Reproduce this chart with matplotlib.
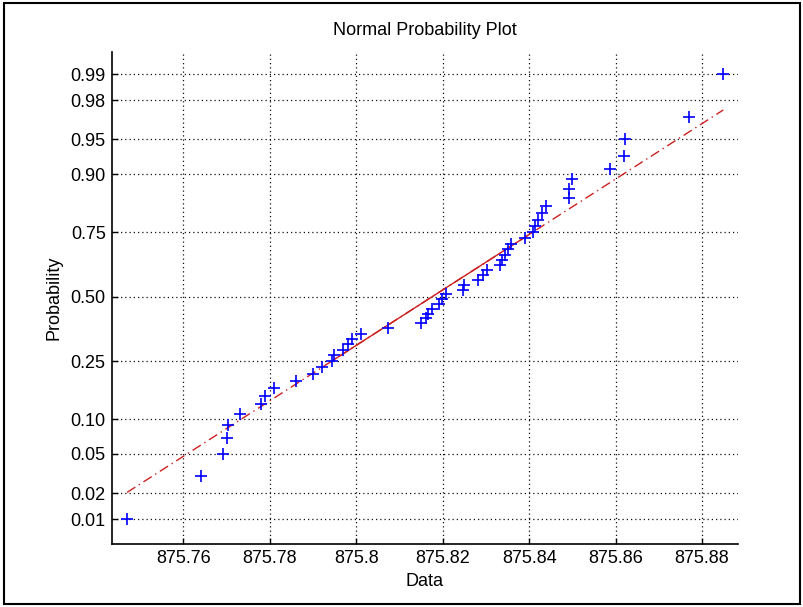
import matplotlib
matplotlib.use('Agg')
import matplotlib.pyplot as plt
from matplotlib.patches import Rectangle
from statistics import NormalDist
import numpy as np

# Data values (sorted sample, n = 50)
data = [875.7470, 875.7641, 875.7691, 875.7702, 875.7703, 875.7731, 875.7779, 875.7789,
        875.7810, 875.7860, 875.7900, 875.7920, 875.7943, 875.7949, 875.7970, 875.7982,
        875.7990, 875.8011, 875.8074, 875.8150, 875.8161, 875.8167, 875.8175, 875.8192,
        875.8199, 875.8208, 875.8248, 875.8249, 875.8282, 875.8294, 875.8303, 875.8333,
        875.8337, 875.8344, 875.8350, 875.8358, 875.8391, 875.8408, 875.8414, 875.8421,
        875.8429, 875.8439, 875.8491, 875.8492, 875.8499, 875.8587, 875.8620, 875.8621,
        875.8769, 875.8849]

prob_ticks = [0.01, 0.02, 0.05, 0.10, 0.25, 0.50, 0.75, 0.90, 0.95, 0.98, 0.99]
prob_labels = ['0.01', '0.02', '0.05', '0.10', '0.25', '0.50', '0.75', '0.90', '0.95', '0.98', '0.99']
x_ticks = [875.76, 875.78, 875.80, 875.82, 875.84, 875.86, 875.88]
x_labels = ['875.76', '875.78', '875.8', '875.82', '875.84', '875.86', '875.88']

plt.rcParams['font.family'] = ['Liberation Sans', 'DejaVu Sans']

nd = NormalDist()
x = np.sort(np.array(data))
n = len(x)
pp = (np.arange(1, n + 1) - 0.5) / n
z = np.array([nd.inv_cdf(p) for p in pp])

# Reference line through quartiles (MATLAB normplot style)
q1 = np.interp(0.25, pp, x)
q3 = np.interp(0.75, pp, x)
z1, z3 = nd.inv_cdf(0.25), nd.inv_cdf(0.75)
slope = (z3 - z1) / (q3 - q1)
def line_z(v):
    return z1 + slope * (np.asarray(v) - q1)

fig = plt.figure(figsize=(8.04, 6.07), dpi=100)
fig.patch.set_facecolor('white')
ax = fig.add_axes([112 / 804, 1 - 544 / 607, (738 - 112) / 804, (544 - 52) / 607])

# grid
for t in x_ticks:
    ax.axvline(t, color='#111111', lw=0.9, linestyle=(0, (1, 2.4)), zorder=0)
for p in prob_ticks:
    ax.axhline(nd.inv_cdf(p), color='#111111', lw=0.9, linestyle=(0, (1, 2.4)), zorder=0)

# extrapolated dash-dot line
xe = np.array([x.min(), x.max()])
ax.plot(xe, line_z(xe), color='#cc2020', lw=1.0, linestyle=(0, (7, 3, 1, 3)), zorder=2)
# solid part between quartiles
xs = np.array([q1, q3])
ax.plot(xs, line_z(xs), color='#cc2020', lw=1.0, linestyle='-', zorder=2)

ax.plot(x, z, linestyle='none', marker='+', color='#0000ff', markersize=9,
        markeredgewidth=1.2, zorder=3)

ax.set_xlim(875.7435, 875.8883)
ax.set_ylim(-2.587, 2.56)
ax.set_xticks(x_ticks)
ax.set_xticklabels(x_labels)
ax.set_yticks([nd.inv_cdf(p) for p in prob_ticks])
ax.set_yticklabels(prob_labels)
ax.tick_params(direction='in', length=4.5, width=1.0, labelsize=13, pad=4.5, colors='black')

for s in ['top', 'right']:
    ax.spines[s].set_visible(False)
for s in ['left', 'bottom']:
    ax.spines[s].set_linewidth(1.2)

ax.set_title('Normal Probability Plot', fontsize=13, pad=12.5)
ax.set_xlabel('Data', fontsize=13, labelpad=4)
ax.set_ylabel('Probability', fontsize=13, labelpad=6)

# figure border
fig.patches.append(Rectangle((4 / 804, 3 / 607), 796 / 804, 601 / 607, transform=fig.transFigure,
                             fill=False, edgecolor='black', linewidth=1.5))

fig.savefig('out.png', dpi=100)
